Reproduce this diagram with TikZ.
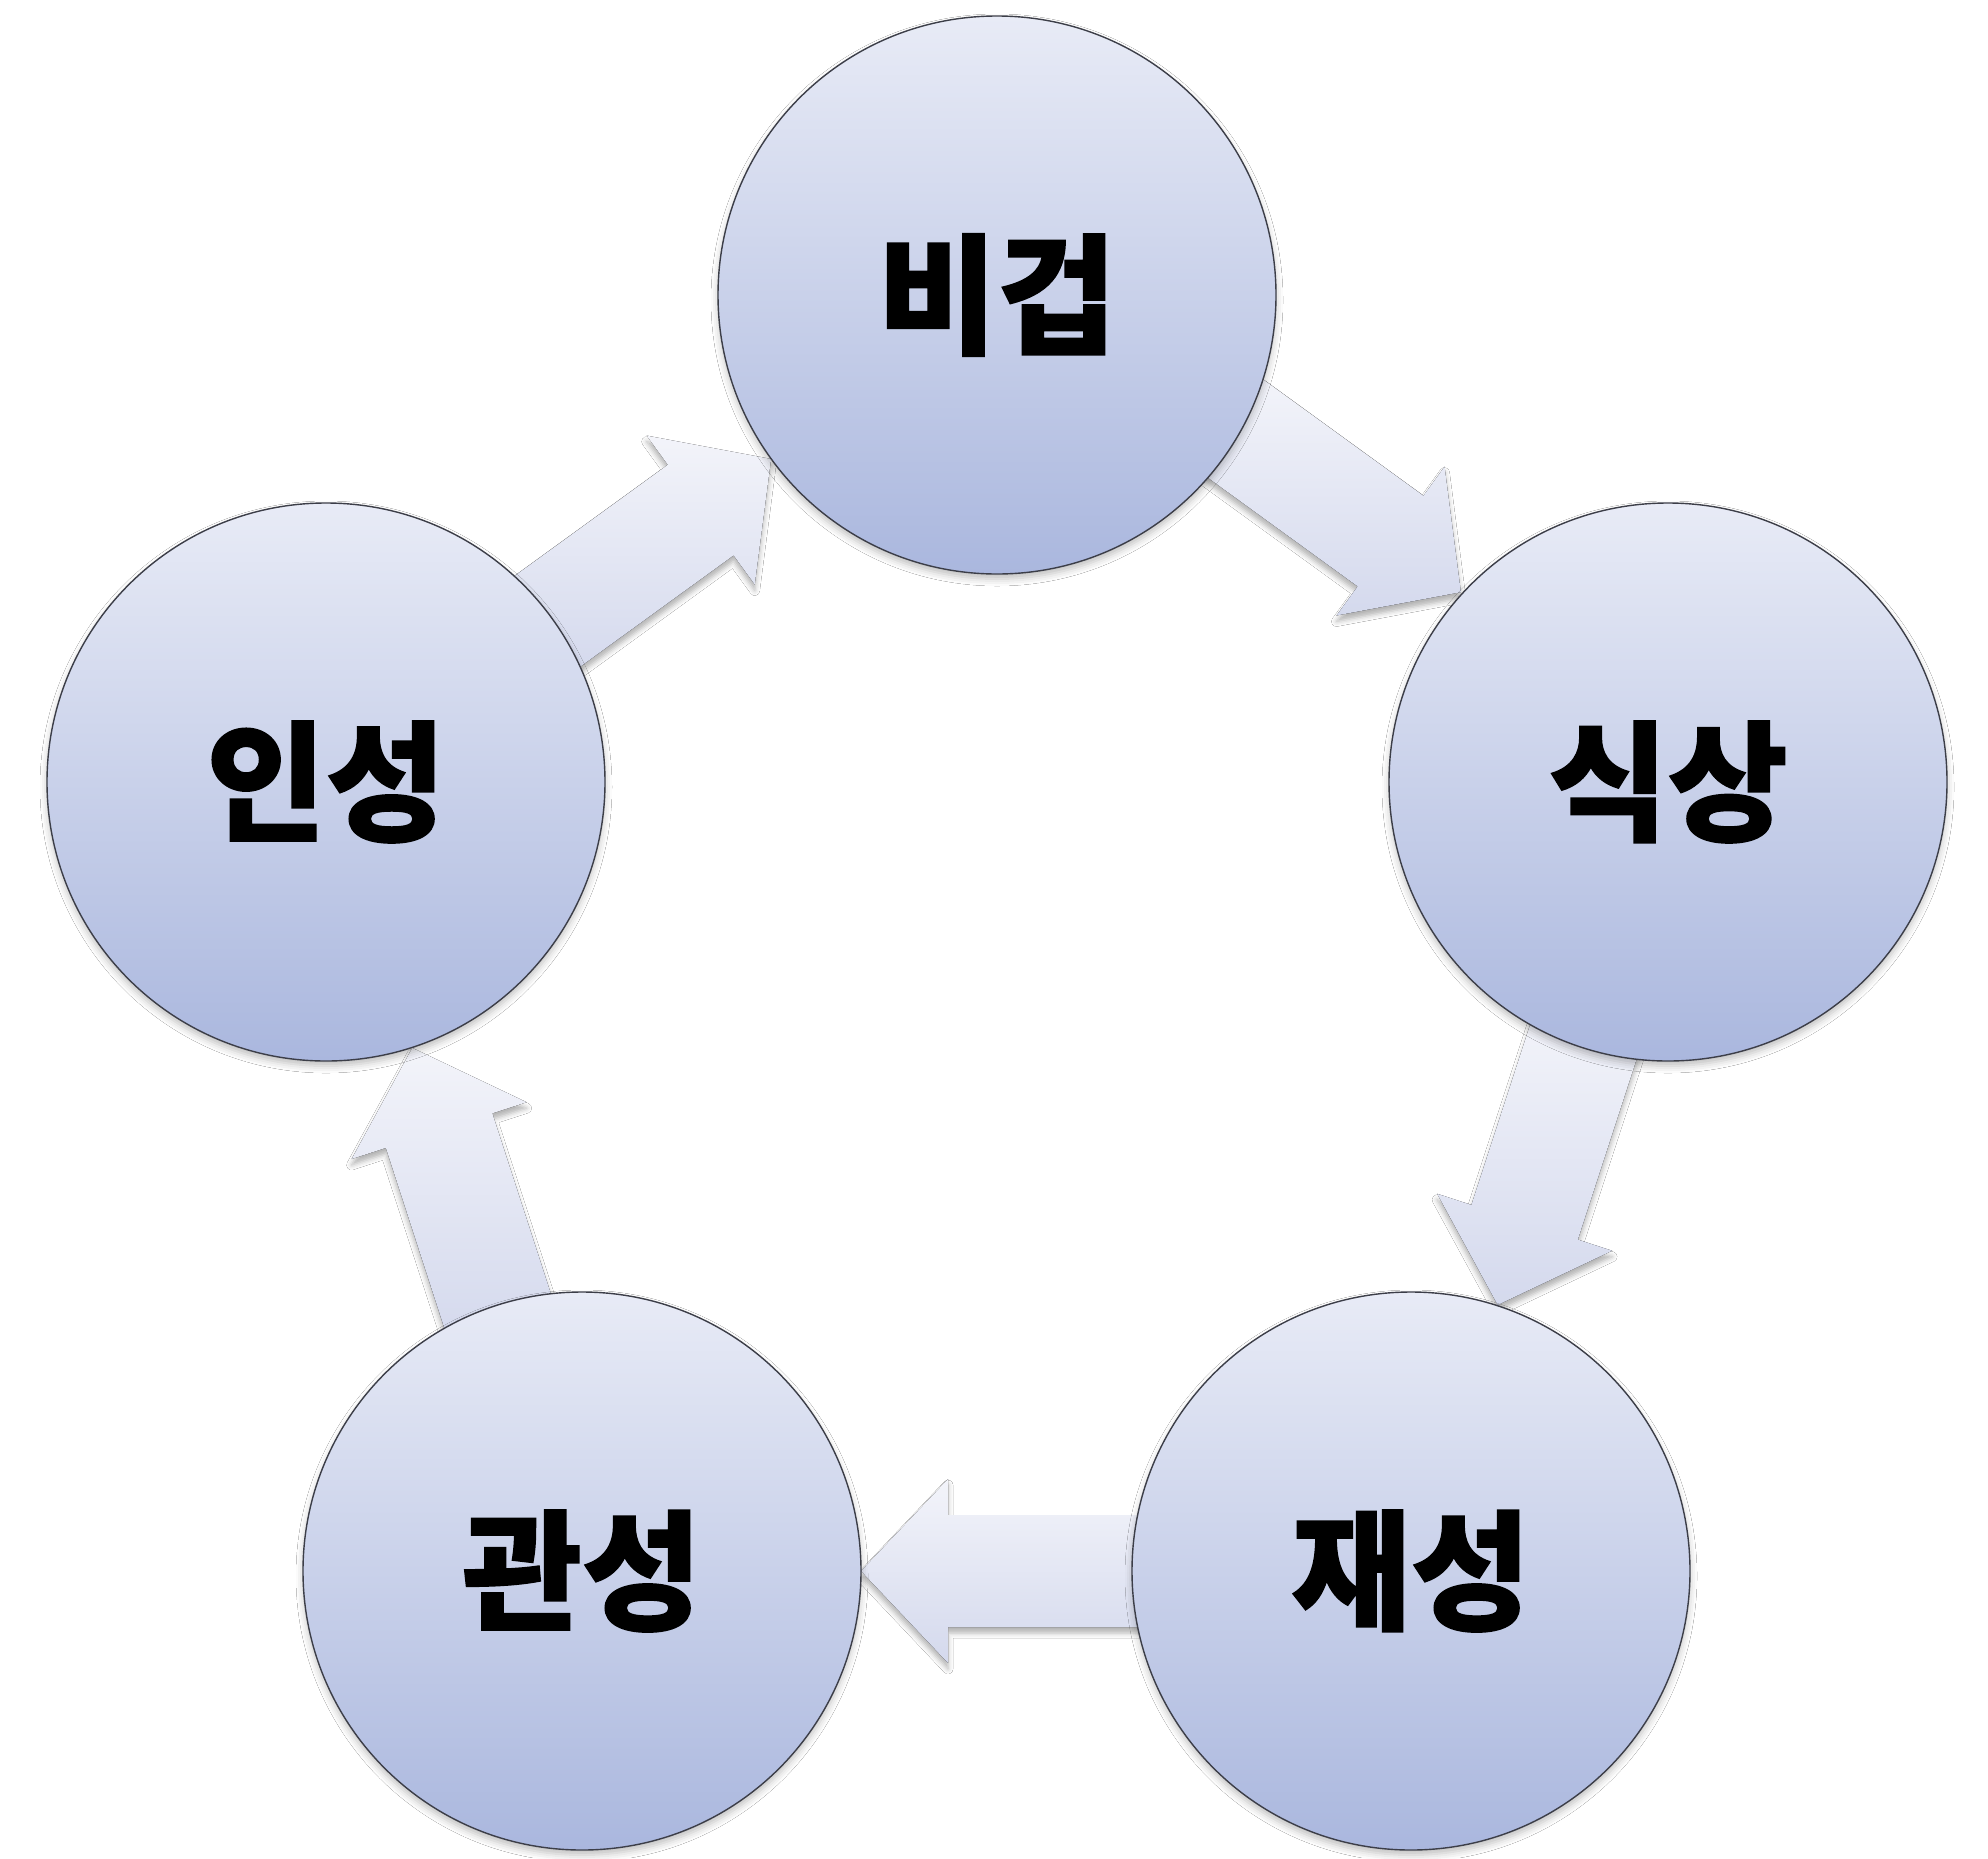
\documentclass[tikz,border=0pt]{standalone}
\usepackage{fontspec}
\newfontfamily\krfont{Noto Sans CJK KR}[BoldFeatures={FakeBold=1.2}]
\usetikzlibrary{calc,shadows.blur}
\definecolor{circtop}{RGB}{232,235,246}
\definecolor{circbot}{RGB}{170,183,222}
\definecolor{arrtop}{RGB}{243,244,250}
\definecolor{arrbot}{RGB}{212,217,237}
\definecolor{rim}{RGB}{60,62,72}
\tikzset{
  phase/.style={circle, minimum size=558pt, inner sep=0pt, draw=rim, line width=1.4pt,
    top color=circtop, bottom color=circbot,
    blur shadow={shadow xshift=0pt, shadow yshift=-5pt, shadow blur radius=7pt, shadow opacity=25},
    font=\krfont\bfseries\fontsize{130}{150}\selectfont},
  flow/.style={top color=arrtop, bottom color=arrbot,
    blur shadow={shadow xshift=0pt, shadow yshift=-6pt, shadow blur radius=5pt, shadow opacity=30}},
}
\newcommand\flowarrow[3]{%
  \fill[flow] ($(#1)!260pt!(#2)!#3pt-56pt!90:(#2)$)
    -- ($(#1)!463pt!(#2)!#3pt-56pt!90:(#2)$)
    -- ($(#1)!463pt!(#2)!#3pt-92pt!90:(#2)$)
    -- ($(#1)!550pt!(#2)!#3pt!90:(#2)$)
    -- ($(#1)!463pt!(#2)!#3pt+92pt!90:(#2)$)
    -- ($(#1)!463pt!(#2)!#3pt+56pt!90:(#2)$)
    -- ($(#1)!260pt!(#2)!#3pt+56pt!90:(#2)$) -- cycle;}
\begin{document}
\begin{tikzpicture}[x=1pt,y=-1pt]
\fill[white] (0,0) rectangle (1988,1858);
\useasboundingbox (0,0) rectangle (1988,1858);
% centres
\coordinate (c1) at (997,295);
\coordinate (c2) at (1668,782);
\coordinate (c3) at (1411,1571);
\coordinate (c4) at (582,1571);
\coordinate (c5) at (326,782);
% arrows (under circles)
\flowarrow{c1}{c2}{32}
\flowarrow{c2}{c3}{0}
\flowarrow{c3}{c4}{0}
\flowarrow{c4}{c5}{0}
\flowarrow{c5}{c1}{0}
% circles
\node[phase] (bijeop) at (c1) {비겁};
\node[phase] (siksang) at (c2) {식상};
\node[phase] (jaeseong) at (c3) {재성};
\node[phase] (gwanseong) at (c4) {관성};
\node[phase] (inseong) at (c5) {인성};
\end{tikzpicture}
\end{document}
